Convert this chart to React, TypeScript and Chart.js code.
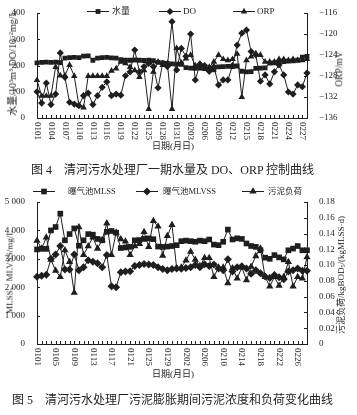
import React, { useEffect, useRef } from 'react';
import { Chart, registerables } from 'chart.js';
import { drawPoint } from 'chart.js/helpers';

Chart.register(...registerables);

const INK = '#1e1e1e';
const SERIF = '"Liberation Serif", "DejaVu Serif", "Noto Sans CJK SC", serif';

// ---------- Figure 4 data ----------
const dates1 = [
  '0101','0102','0103','0104','0105','0106','0107','0108','0109','0110',
  '0111','0112','0113','0114','0115','0116','0117','0118','0119','0120',
  '0121','0122','0123','0124','0125','0126','0127','0128','0129','0130','0131',
  '0201','0202','0203','0204','0205','0206','0207','0208','0209','0210',
  '0211','0212','0213','0214','0215','0216','0217','0218','0219','0220',
  '0221','0222','0223','0224','0225','0226','0227','0228',
];
const ticks1 = ['0101','0104','0107','0110','0113','0116','0119','0122','0125','0128','0131',
  '0203','0206','0209','0212','0215','0218','0221','0224','0227'];
const water = [
  210,212,213,212,213,211,228,230,231,230,236,237,220,228,230,231,229,228,222,220,
  220,221,220,219,220,218,212,210,208,206,205,
  204,192,190,189,190,188,184,183,195,196,197,196,198,178,176,177,189,190,191,209,
  210,211,215,217,218,220,232,235,
];
const doVals = [
  100,57,133,51,91,248,155,60,53,47,85,95,51,85,117,138,85,91,87,161,
  176,259,176,196,208,196,115,208,196,367,183,
  265,235,320,145,205,200,178,195,126,145,145,200,278,323,335,253,240,140,164,130,
  176,202,164,99,91,126,119,171,
];
const orp = [
  -128.8,-131.8,-131.8,-131.8,-126.3,-127.9,-127.9,-125.9,-128,-133.6,-134,-128,-128,-128,-128,-128,
  -127,-126.6,-125.3,-125.6,-126.3,-126.9,-128.2,-126.9,-134.3,-127.2,-125.3,-125.9,-125.6,-134.3,-122.7,
  -125.5,-124.7,-124,-126,-125.7,-126.6,-126.3,-125.3,-124,-124.8,-125,-124.8,-123.8,-132,-125,
  -124.3,-123.7,-124,-125.3,-125.3,-125.3,-124.8,-124.8,-125,-124.8,-125,-125,-124.8,
];

// ---------- Figure 5 data ----------
const dates2 = dates1;
const ticks2 = ['0101','0105','0109','0113','0117','0121','0125','0129','0202','0206','0210',
  '0214','0218','0222','0226'];
const mlss = [
  3330,3350,3350,4000,4120,4590,3650,3870,4070,3460,
  3650,3870,3850,3700,3650,3950,3980,3920,3380,3400,
  3420,3650,3660,3700,3720,3690,3430,3420,3430,3450,
  3480,3620,3640,3620,3600,3640,3620,3680,3500,3480,
  3600,4030,3680,3720,3700,3540,3450,3420,3300,3040,
  3000,3130,3050,2980,3300,3360,3450,3300,3300,
];
const mlvss = [
  2370,2400,2440,3000,3150,3450,2620,2620,3150,2600,
  2700,2950,2900,2840,2700,3130,2030,2000,2530,2550,
  2560,2750,2780,2820,2800,2780,2700,2640,2600,2640,
  2660,2650,2680,2700,2780,2700,2810,2750,2800,2660,
  2600,2980,2550,2700,2740,2660,2470,2600,2490,2380,
  2320,2430,2350,2280,2550,2600,2660,2580,2580,
];
const load = [
  0.131,0.121,0.135,0.107,0.093,0.085,0.119,0.104,0.065,0.148,
  0.113,0.124,0.135,0.121,0.132,0.153,0.113,0.141,0.133,0.130,
  0.113,0.124,0.127,0.142,0.123,0.156,0.149,0.112,0.137,
  0.151,0.096,0.097,0.106,0.117,0.107,0.099,0.109,0.109,0.085,
  0.097,0.097,0.077,0.096,0.083,0.097,0.081,0.098,0.1115,0.121,
  0.085,0.073,0.085,0.074,0.085,0.104,0.073,0.085,0.083,0.110,
];

const decorPlugin = {
  id: 'decor',
  afterDraw(chart: any, _args: any, opts: any) {
    const { ctx, chartArea: a } = chart;
    const xs = chart.scales.x;
    const labels: string[] = chart.data.labels;
    ctx.save();
    ctx.strokeStyle = INK;
    ctx.fillStyle = INK;
    ctx.lineWidth = 1;
    ctx.beginPath();
    labels.forEach((_l, i) => {
      const px = Math.round(xs.getPixelForValue(i)) + 0.5;
      ctx.moveTo(px, a.bottom);
      ctx.lineTo(px, a.bottom - 3);
    });
    ['y', 'y1'].forEach((id) => {
      const s = chart.scales[id];
      s.ticks.forEach((t: any) => {
        const py = Math.round(s.getPixelForValue(t.value)) + 0.5;
        if (id === 'y') { ctx.moveTo(a.left, py); ctx.lineTo(a.left + 3, py); }
        else { ctx.moveTo(a.right, py); ctx.lineTo(a.right - 3, py); }
      });
    });
    ctx.stroke();

    ctx.font = `9px ${SERIF}`;
    ctx.textAlign = 'left';
    ctx.textBaseline = 'middle';
    labels.forEach((lab, i) => {
      if (!opts.shown.includes(lab)) return;
      const px = xs.getPixelForValue(i);
      ctx.save();
      ctx.translate(px, a.bottom + 4);
      ctx.rotate(Math.PI / 2);
      ctx.fillText(lab, 0, 0);
      ctx.restore();
    });

    ctx.font = `${opts.legendSize}px ${SERIF}`;
    opts.legend.forEach((it: any, k: number) => {
      const ds = chart.data.datasets[k];
      ctx.beginPath();
      ctx.moveTo(it.x1, it.y + 0.5);
      ctx.lineTo(it.x2, it.y + 0.5);
      ctx.stroke();
      drawPoint(ctx, { pointStyle: ds.pointStyle, radius: ds.pointRadius, borderWidth: 0, rotation: 0 } as any,
        (it.x1 + it.x2) / 2, it.y + 0.5);
      ctx.textAlign = 'left';
      ctx.textBaseline = 'middle';
      ctx.fillText(ds.label, it.tx, it.y + 1);
    });
    ctx.restore();
  },
};

function ds(label: string, data: number[], style: string, r: number, axis: string) {
  return {
    label, data, yAxisID: axis,
    borderColor: INK, borderWidth: 1,
    pointStyle: style, pointRadius: r, pointHoverRadius: r,
    pointBackgroundColor: INK, pointBorderColor: INK, pointBorderWidth: 0,
    tension: 0, fill: false,
  };
}

function baseScales(h: number, bottom: number, yLeft: any, yRight: any) {
  return {
    x: {
      type: 'category', offset: false,
      grid: { display: false },
      border: { display: true, color: INK, width: 1 },
      ticks: { display: false, autoSkip: false },
      afterFit: (s: any) => { s.height = h - bottom; },
    },
    y: {
      position: 'left', ...yLeft,
      grid: { display: false },
      border: { display: true, color: INK, width: 1 },
      ticks: { ...yLeft.ticks, color: INK, padding: 4, font: { size: 9, family: SERIF } },
      afterFit: (s: any) => { s.width = 37; },
    },
    y1: {
      position: 'right', ...yRight,
      grid: { display: false },
      border: { display: true, color: INK, width: 1 },
      ticks: { ...yRight.ticks, color: INK, padding: 4, font: { size: 9, family: SERIF } },
      afterFit: (s: any) => { s.width = 50; },
    },
  };
}

const abs: any = { position: 'absolute', fontFamily: SERIF, color: INK, whiteSpace: 'nowrap', lineHeight: 1 };
const rot = (x: number, y: number, size: number): any => ({
  ...abs, left: x, top: y, fontSize: size, transform: 'translate(-50%,-50%) rotate(-90deg)',
});
const ctr = (x: number, y: number, size: number): any => ({
  ...abs, left: x, top: y, fontSize: size, transform: 'translate(-50%,-50%)',
});
const sup: any = { fontSize: '0.65em', verticalAlign: '0.45em' };
const sub: any = { fontSize: '0.65em', verticalAlign: '-0.2em' };

export default function App() {
  const c1 = useRef<HTMLCanvasElement>(null);
  const c2 = useRef<HTMLCanvasElement>(null);

  useEffect(() => {
    const ch1 = new Chart(c1.current!, {
      type: 'line',
      data: {
        labels: dates1,
        datasets: [
          ds('水量', water, 'rect', 3.4, 'y'),
          ds('DO', doVals, 'rectRot', 3.6, 'y'),
          ds('ORP', orp, 'triangle', 3.8, 'y1'),
        ],
      } as any,
      options: {
        responsive: false, animation: false, devicePixelRatio: 1,
        layout: { padding: { top: 13, left: 0, right: 0, bottom: 0 } },
        plugins: {
          legend: { display: false }, tooltip: { enabled: false },
          decor: {
            shown: ticks1, legendSize: 9,
            legend: [
              { x1: 87, x2: 109, y: 11, tx: 112 },
              { x1: 159, x2: 181, y: 11, tx: 183 },
              { x1: 233, x2: 255, y: 11, tx: 257 },
            ],
          },
        },
        scales: baseScales(152, 118,
          { min: 0, max: 400, ticks: { stepSize: 50 } },
          { min: -136, max: -116, ticks: { stepSize: 2, callback: (v: any) => (v < 0 ? '\u2212' + Math.abs(v) : String(v)) } },
        ),
      } as any,
      plugins: [decorPlugin],
    });

    const ch2 = new Chart(c2.current!, {
      type: 'line',
      data: {
        labels: dates2,
        datasets: [
          ds('曝气池MLSS', mlss, 'rect', 4, 'y'),
          ds('曝气池MLVSS', mlvss, 'rectRot', 4, 'y'),
          ds('污泥负荷', load, 'triangle', 4.2, 'y1'),
        ],
      } as any,
      options: {
        responsive: false, animation: false, devicePixelRatio: 1,
        layout: { padding: { top: 22, left: 0, right: 0, bottom: 0 } },
        plugins: {
          legend: { display: false }, tooltip: { enabled: false },
          decor: {
            shown: ticks2, legendSize: 8.5,
            legend: [
              { x1: 33, x2: 55, y: 11, tx: 68 },
              { x1: 136, x2: 158, y: 11, tx: 163 },
              { x1: 242, x2: 264, y: 11, tx: 268 },
            ],
          },
        },
        scales: baseScales(200, 164,
          { min: 0, max: 5000, ticks: { stepSize: 1000, callback: (v: any) => (v >= 1000 ? `${Math.floor(v / 1000)} 000` : String(v)) } },
          { min: 0, max: 0.18, ticks: { stepSize: 0.02, callback: (v: any) => (Math.abs(v) < 1e-9 ? '0' : Number(v).toFixed(2)) } },
        ),
      } as any,
      plugins: [decorPlugin],
    });

    return () => { ch1.destroy(); ch2.destroy(); };
  }, []);

  return (
    <div style={{ position: 'absolute', left: 0, top: 0, width: 357, height: 415, background: '#fff', overflow: 'hidden' }}>
      <canvas ref={c1} width={357} height={152} style={{ position: 'absolute', left: 0, top: 0, width: 357, height: 152 }} />
      <div style={rot(13, 63, 10)}>
        水量/10<span style={sup}>3</span>m<span style={sup}>3</span>,DO/10<span style={sup}>−2</span>mg/L
      </div>
      <div style={rot(340, 69, 9.5)}>ORP/mV</div>
      <div style={ctr(173, 146, 9)}>日期(月日)</div>
      <div style={ctr(172.5, 170, 12)}>图 4　清河污水处理厂一期水量及 DO、ORP 控制曲线</div>

      <canvas ref={c2} width={357} height={200} style={{ position: 'absolute', left: 0, top: 180, width: 357, height: 200 }} />
      <div style={rot(10, 272, 9)}>MLSS、MLVSS/mg/L</div>
      <div style={rot(342, 275, 9)}>
        污泥负荷/kgBOD<span style={sub}>5</span>/(kgMLSS·d)
      </div>
      <div style={ctr(173, 374, 9)}>日期(月日)</div>
      <div style={ctr(172.5, 400, 12)}>图 5　清河污水处理厂污泥膨胀期间污泥浓度和负荷变化曲线</div>
    </div>
  );
}
